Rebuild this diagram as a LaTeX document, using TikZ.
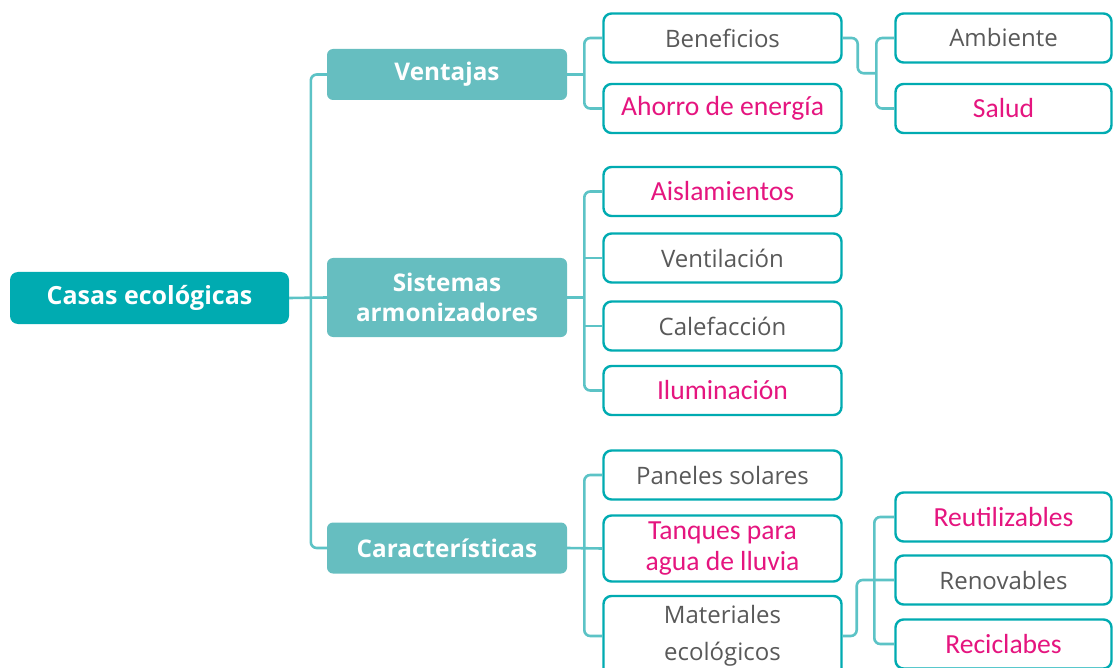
\documentclass[tikz,border=0pt]{standalone}
\usepackage{fontspec}
\setmainfont{Open Sans}
\newfontfamily\pinkfont{Carlito}
\usetikzlibrary{calc}
\definecolor{tealdark}{HTML}{00ABB1}
\definecolor{teallight}{HTML}{66BEC0}
\definecolor{linkteal}{HTML}{5CC3C6}
\definecolor{textgray}{HTML}{595959}
\definecolor{textpink}{HTML}{E5157F}
\tikzset{
  root/.style={fill=tealdark, rounded corners=8pt, text=white, font=\fontsize{25}{29}\selectfont\bfseries,
    minimum width=279pt, minimum height=52pt, inner sep=0pt},
  topic/.style={fill=teallight, rounded corners=6pt, text=white, font=\fontsize{24.3}{30}\selectfont\bfseries,
    minimum width=240pt, minimum height=51pt, inner sep=0pt, align=center},
  item/.style={draw=tealdark, line width=2.4pt, fill=white, rounded corners=8pt, text=textgray,
    font=\fontsize{24}{36.5}\selectfont, minimum width=238pt, minimum height=49pt, inner sep=0pt, align=center},
  leaf/.style={item, minimum width=216pt},
  hot/.style={text=textpink, font=\pinkfont\fontsize{27.6}{31}\selectfont},
  link/.style={draw=linkteal, line width=2.6pt, rounded corners=6pt}
}
\begin{document}
\begin{tikzpicture}[x=1pt, y=-1pt]
\useasboundingbox (0,0) rectangle (1113,668);
% main topic and branches
\node[root] (casas) at (149.5,298) {Casas ecológicas};
\node[topic] (ven) at (447,74.5) {Ventajas};
\node[topic, minimum height=79pt] (sis) at (447,297.5) {Sistemas\\armonizadores};
\node[topic] (car) at (447,548) {Características};
% ventajas
\node[item] (ben) at (722.5,38) {Beneficios};
\node[item, hot] (aho) at (722.5,108.5) {Ahorro de energía};
\node[leaf] (amb) at (1003.5,38) {Ambiente};
\node[leaf, hot] (sal) at (1003.5,108.5) {Salud};
% sistemas armonizadores
\node[item, hot] (ais) at (722.5,191.5) {Aislamientos};
\node[item] (vent) at (722.5,258) {Ventilación};
\node[item] (cal) at (722.5,326) {Calefacción};
\node[item, hot] (ilu) at (722.5,390.5) {Iluminación};
% caracteristicas
\node[item] (pan) at (722.5,475) {Paneles solares};
\node[item, hot, minimum height=66pt] (tan) at (722.5,548.5) {Tanques para\\agua de lluvia};
\node[item, minimum height=80pt] (mat) at (722.5,636) {Materiales\\ecológicos};
\node[leaf, hot] (reu) at (1003.5,517) {Reutilizables};
\node[leaf] (ren) at (1003.5,580) {Renovables};
\node[leaf, hot] (rec) at (1003.5,644) {Reciclabes};
% connectors
\draw[link] (casas.east) -- (sis.west);
\draw[link] (ven.west) -- ++(-16,0) |- (car.west);
\draw[link] (ven.east) -- ++(18,0);
\draw[link] (ben.west) -- ++(-18,0) |- (aho.west);
\draw[link] (sis.east) -- ++(18,0);
\draw[link] (ais.west) -- ++(-18,0) |- (ilu.west);
\draw[link] (vent.west) -- ++(-18,0);
\draw[link] (cal.west) -- ++(-18,0);
\draw[link] (car.east) -- (tan.west);
\draw[link] (pan.west) -- ++(-18,0) |- (mat.west);
\coordinate (fa) at ($(amb.west)!.5!(sal.west)+(-18,0)$);
\draw[link] (ben.east) -- ++(15,0) |- (fa);
\draw[link] (amb.west) -- ++(-18,0) |- (sal.west);
\draw[link] (mat.east) -- ++(14,0) |- (ren.west);
\draw[link] (reu.west) -- ++(-20,0) |- (rec.west);
\end{tikzpicture}
\end{document}
